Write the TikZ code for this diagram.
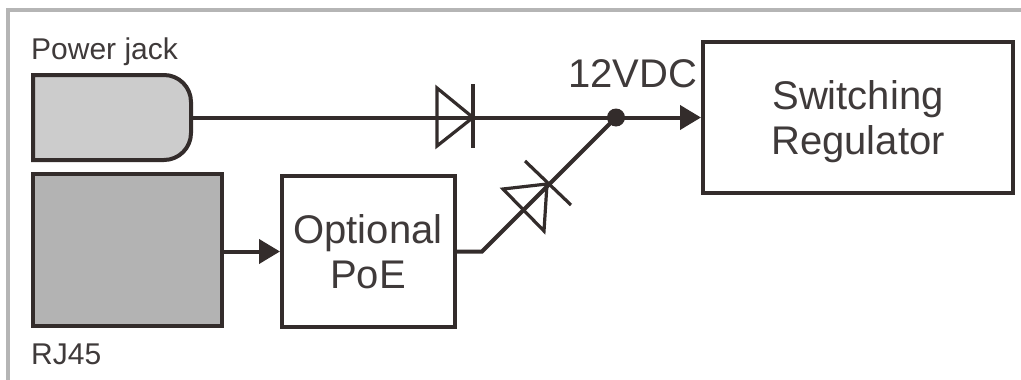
\documentclass[tikz,border=0pt]{standalone}
\usepackage{fontspec}
\setmainfont{Liberation Sans}
\usetikzlibrary{arrows.meta}
\definecolor{ink}{HTML}{332C2B}
\definecolor{txt}{HTML}{3F3A3A}
\definecolor{framegrey}{HTML}{B5B5B5}
\definecolor{jackfill}{HTML}{CCCCCC}
\definecolor{rjfill}{HTML}{B3B3B3}
\tikzset{
  x=1pt,y=-1pt,
  block/.style={draw=ink,line width=4pt,rectangle,inner sep=0pt,outer sep=0pt,anchor=north west,fill=white},
  wire/.style={draw=ink,line width=4pt},
  sym/.style={draw=ink,line width=3.2pt,miter limit=10},
  flow/.style={wire,-{Triangle[length=21pt,width=24pt,fill=ink]},shorten >=2pt},
  big/.style={text=txt,font=\fontsize{40}{45}\selectfont,align=center,inner sep=0pt},
  small/.style={text=txt,font=\fontsize{30}{34}\selectfont,inner sep=0pt,anchor=base west},
}
\begin{document}
\begin{tikzpicture}
\useasboundingbox (0,0) rectangle (1021,380);
\fill[white] (0,0) rectangle (1021,380);
\draw[framegrey,line width=4pt] (8,380) -- (8,10) -- (1021,10);

% blocks
\node[inner sep=0pt,outer sep=0pt,minimum width=158pt,minimum height=85pt,anchor=north west] (jack) at (33,75) {};
\draw[draw=ink,line width=4pt,fill=jackfill]
  (jack.north west) -- ([xshift=-27pt]jack.north east)
  arc[start angle=90,end angle=0,radius=27pt]
  -- ([yshift=27pt]jack.south east)
  arc[start angle=0,end angle=-90,radius=27pt]
  -- (jack.south west) -- cycle;
\node[block,fill=rjfill,minimum width=189pt,minimum height=152pt] (rj) at (33,174) {};
\node[block,minimum width=173pt,minimum height=151pt] (poe) at (282,176) {};
\node[block,line width=4.6pt,minimum width=310pt,minimum height=151pt] (reg) at (703,42) {};

% texts
\node[small] (ljack) at (31,59) {Power jack};
\node[small] (lrj) at (31,364) {RJ45};
\node[big] (lpoe) at (368,252) {Optional\\PoE};
\node[big] (lreg) at (858,121.5) {Switching\\Regulator};
\node[big,anchor=base west] (lv) at (568,87) {12VDC};

% junction and bend
\node[circle,fill=ink,inner sep=0pt,outer sep=0pt,minimum size=18pt] (dot) at (616,117.5) {};
\coordinate (bend) at (482,251.5);

% wires
\draw[wire] (jack.east) -- (dot.center);
\draw[flow] (dot.center) -- (reg.west);
\draw[flow] (rj.east |- poe.west) -- (poe.west);
\draw[wire,line join=miter] (poe.east) -- (bend) -- (dot.center);

% diode on the power-jack line
\coordinate (dan1) at (437,88);
\coordinate (dan2) at (437,146);
\coordinate (dtip) at (473,117.5);
\coordinate (dbar1) at (473,84);
\coordinate (dbar2) at (473,148);
\draw[sym] (dan1) -- (dtip) -- (dan2) -- cycle;
\draw[sym] (dbar1) -- (dbar2);

% diode on the PoE line
\coordinate (ean1) at (503,189);
\coordinate (ean2) at (544,231);
\coordinate (etip) at (547,184);
\coordinate (ebar1) at (525,161);
\coordinate (ebar2) at (571,205);
\draw[sym] (ean1) -- (etip) -- (ean2) -- cycle;
\draw[sym] (ebar1) -- (ebar2);
\end{tikzpicture}
\end{document}
